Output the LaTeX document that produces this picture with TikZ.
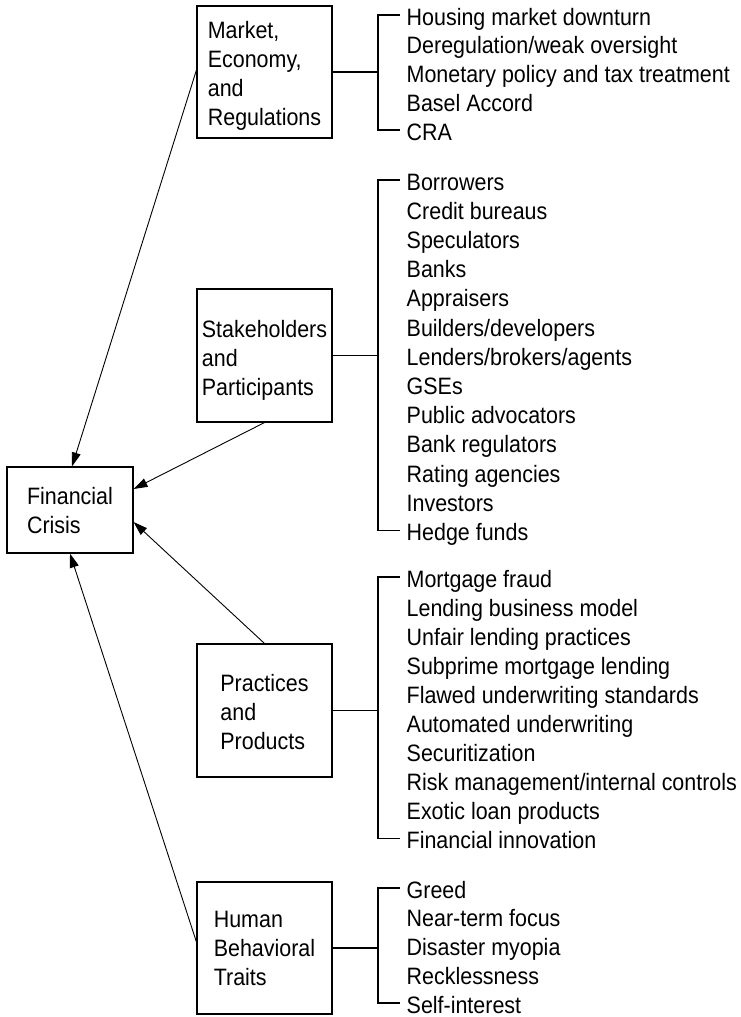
\documentclass[tikz,border=0pt]{standalone}
\usepackage{fontspec}
\setmainfont{Liberation Sans}[FakeStretch=0.905]
\usetikzlibrary{arrows.meta}
\begin{document}
\begin{tikzpicture}[x=1pt,y=-1pt,
  font=\fontsize{23.7}{29}\selectfont,
  box/.style={draw, line width=1.1pt, inner sep=0pt,
    minimum width=135pt, minimum height=132pt},
  boxtext/.style={align=left, inner sep=0pt},
  item/.style={anchor=base west, inner sep=0pt},
  brk/.style={line width=1.1pt},
  arr/.style={line width=0.9pt, -{Triangle[length=14pt,width=9pt]}}]
\useasboundingbox (0,0) rectangle (741,1017);

% category boxes
\node[box] (mer) at (264.5,72) {};
\node[boxtext] (mer-t) at ([yshift=-3.5pt]mer.center) {Market,\\Economy,\\and\\Regulations};
\node[box, minimum height=133pt] (stk) at (264.5,355.5) {};
\node[boxtext] (stk-t) at ([yshift=-5pt]stk.center) {Stakeholders\\and\\Participants};
\node[box, minimum height=133pt] (prc) at (264.5,710.5) {};
\node[boxtext] (prc-t) at ([yshift=-2pt]prc.center) {Practices\\and\\Products};
\node[box] (hum) at (264.5,948) {};
\node[boxtext] (hum-t) at (hum.center) {Human\\Behavioral\\Traits};
\node[box, minimum width=126pt, minimum height=86pt] (fc) at (70,510) {};
\node[boxtext] (fc-t) at ([yshift=-1pt]fc.center) {Financial\\Crisis};

% lists
\foreach [count=\i] \t in {Housing market downturn, Deregulation/weak oversight,
  Monetary policy and tax treatment, Basel Accord, CRA}
  \node[item] (m\i) at (406.5,{25+(\i-1)*28.75}) {\t};
\foreach [count=\i] \t in {Borrowers, Credit bureaus, Speculators, Banks, Appraisers,
  Builders/developers, Lenders/brokers/agents, GSEs, Public advocators,
  Bank regulators, Rating agencies, Investors, Hedge funds}
  \node[item] (s\i) at (406.5,{190+(\i-1)*29.2}) {\t};
\foreach [count=\i] \t in {Mortgage fraud, Lending business model, Unfair lending practices,
  Subprime mortgage lending, Flawed underwriting standards, Automated underwriting,
  Securitization, Risk management/internal controls, Exotic loan products,
  Financial innovation}
  \node[item] (p\i) at (406.5,{587+(\i-1)*29.1}) {\t};
\foreach [count=\i] \t in {Greed, Near-term focus, Disaster myopia, Recklessness, Self-interest}
  \node[item] (h\i) at (406.5,{898+(\i-1)*28.75}) {\t};

% brackets
\foreach \a/\b/\bx in {m1/m5/mer, s1/s13/stk, p1/p10/prc, h1/h5/hum}{
  \draw[brk] ([shift={(-6.5pt,10pt)}]\a.base west) -- ++(-22,0)
    |- ([shift={(-6.5pt,10pt)}]\b.base west);
  \coordinate (\bx-br) at ([shift={(-28.5pt,0pt)}]\a.base west);
  \draw[brk] (\bx.east) -- (\bx.east -| \bx-br);
}

% arrows to Financial Crisis
\draw[arr] ([yshift=2pt]mer.west) -- ([xshift=2pt]fc.north);
\draw[arr] (stk.south) -- ([yshift=21pt]fc.east);
\draw[arr] (prc.north) -- ([yshift=-12pt]fc.east);
\draw[arr] ([yshift=6pt]hum.west) -- (fc.south);
\end{tikzpicture}
\end{document}
